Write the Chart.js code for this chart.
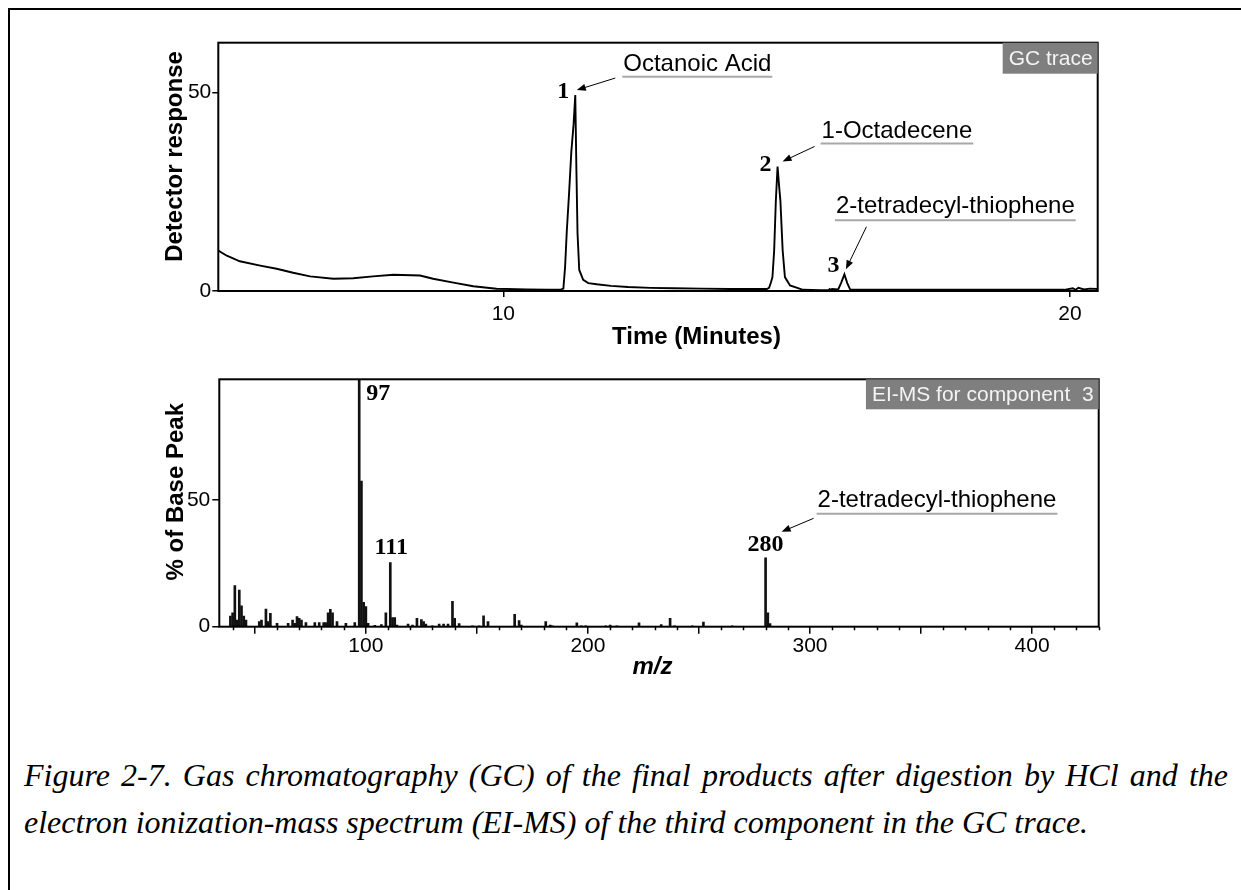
<!DOCTYPE html>
<html>
<head>
<meta charset="utf-8">
<script src="https://cdn.jsdelivr.net/npm/chart.js@4/dist/chart.umd.min.js"></script>
<style>
    body { margin: 0; background: #fff; width: 1241px; height: 890px; overflow: hidden; position: relative; }
    #frame { position: absolute; left: 8px; top: 8px; width: 1300px; height: 1000px; border-top: 2px solid #000; border-left: 2px solid #000; }
    canvas { position: absolute; left: 0; }
    #gc { top: 0; }
    #ms { top: 360px; }
    .caption { position: absolute; left: 24px; font: italic 32px "Liberation Serif", "Times New Roman", serif; line-height: 47px; color: #000; white-space: nowrap; }
    #cap1 { top: 752px; width: 1204px; text-align: justify; text-align-last: justify; }
    #cap2 { top: 799px; }
</style>
</head>
<body>
<div id="frame"></div>
<canvas id="gc" width="1241" height="360"></canvas>
<canvas id="ms" width="1241" height="330"></canvas>
<div class="caption" id="cap1">Figure 2-7. Gas chromatography (GC) of the final products after digestion by HCl and the</div>
<div class="caption" id="cap2">electron ionization-mass spectrum (EI-MS) of the third component in the GC trace.</div>
<script>
    // GC trace (time in minutes, detector response)
    const gcTime = [
        4.97, 5.12, 5.35, 5.71, 6.00, 6.29, 6.59, 7.00, 7.35, 7.70, 8.06, 8.53, 8.76, 9.12, 9.47, 9.88,
        10.41, 10.79, 11.00, 11.06, 11.09, 11.12, 11.16, 11.20, 11.24, 11.27, 11.29, 11.31, 11.34, 11.41,
        11.50, 11.65, 11.90, 12.20, 12.60, 13.00, 13.50, 14.00, 14.40, 14.65, 14.69, 14.72, 14.75, 14.78,
        14.81, 14.84, 14.87, 14.89, 14.93, 14.97, 15.06, 15.29, 15.60, 15.74, 15.76, 15.78, 15.80, 15.91,
        15.96, 16.02, 16.07, 16.12, 16.50, 17.00, 18.00, 19.00, 19.90, 20.05, 20.10, 20.15, 20.25, 20.35, 20.49
    ];
    const gcResponse = [
        10.2, 8.9, 7.5, 6.4, 5.6, 4.6, 3.7, 3.1, 3.2, 3.7, 4.1, 3.9, 3.1, 2.1, 1.2, 0.55,
        0.4, 0.3, 0.3, 0.6, 6, 15, 24.5, 35, 42, 49.4, 30.5, 14.5, 5.3, 2.8,
        2.0, 1.7, 1.3, 1.0, 0.8, 0.7, 0.6, 0.5, 0.5, 0.5, 0.8, 2.0, 3.5, 10.2,
        22.8, 31.4, 26, 22.8, 10.2, 3.5, 1.4, 0.3, 0.2, 0.2, 0.5, 0.2, 0.5, 0.4,
        2.0, 4.2, 2.0, 0.4, 0.3, 0.3, 0.3, 0.3, 0.3, 0.7, 0.3, 0.8, 0.4, 0.6, 0.5
    ];
    const gcTimeTicks = [10, 20];
    const gcResponseTicks = [0, 50];

    const gcPeakNumbers = ['1', '2', '3'];
    const gcPeakNames = ['Octanoic Acid', '1-Octadecene', '2-tetradecyl-thiophene'];
    const gcPeakTimes = [11.27, 14.84, 16.02];
    const gcPeakHeights = [49.4, 31.4, 4.2];

    // EI-MS of component 3 (m/z, % of base peak)
    const msMz = [
        39, 40, 41, 42, 43, 44, 45, 46, 52, 53, 55, 56, 57, 60, 65, 67, 68, 69, 70, 71, 73,
        77, 79, 81, 82, 83, 84, 85, 87, 91, 95, 97, 98, 99, 100, 101, 104, 107, 109, 111, 112, 113, 114,
        119, 121, 123, 125, 126, 127, 130, 133, 135, 137, 139, 140, 142, 148, 151, 153, 155, 167, 169, 170,
        181, 183, 184, 195, 197, 199, 208, 210, 213, 223, 233, 237, 239, 247, 252, 265, 280, 281, 282
    ];
    const msAbundance = [
        4.2, 5.5, 16.2, 2.6, 14.5, 8.2, 4.2, 2.6, 2.0, 2.6, 7.0, 2.0, 5.3, 1.3, 1.3, 2.6, 1.3, 4.0, 3.3, 2.6, 1.6,
        1.6, 1.6, 1.6, 1.6, 5.5, 6.9, 5.5, 2.0, 1.3, 1.6, 100, 57.5, 9.6, 7.9, 1.3, 0.5, 0.8, 5.5, 25.3, 3.6, 3.6, 0.6,
        1.0, 0.6, 3.3, 2.8, 2.0, 1.0, 0.3, 1.0, 1.0, 1.0, 10.0, 3.3, 1.2, 0.3, 0.3, 4.3, 2.0, 4.9, 2.4, 0.6,
        2.0, 0.6, 0.3, 1.5, 0.3, 0.3, 0.3, 0.6, 0.3, 1.5, 0.8, 3.3, 0.3, 0.3, 1.8, 0.3, 27.2, 5.5, 1.2
    ];
    const msMajorTicks = [50, 100, 150, 200, 250, 300, 350, 400];
    const msLabelTicks = [100, 200, 300, 400];
    const msAbundanceTicks = [0, 50];

    const msPeakNumbers = ['97', '111', '280'];
    const msPeakMz = [97, 111, 280];
    const msPeakNames = ['', '', '2-tetradecyl-thiophene'];

    Chart.defaults.font.family = '"Liberation Sans", Arial, sans-serif';
    Chart.defaults.color = '#000';

    const sans = '"Liberation Sans", Arial, sans-serif';
    const serif = '"Liberation Serif", "Times New Roman", serif';

    // layout of the call-outs, offsets in px from the peak top
    const gcNoteLayout = [
        { num: [-12, -3], tip: [1.5, -5], tail: [40, -17], name: [48, -31], line: -18.3 },
        { num: [-12, -1.5], tip: [5, -5], tail: [37, -20], name: [44, -35], line: -23 },
        { num: [-11, -9], tip: [1.5, -5], tail: [22, -47.6], name: [-8.5, -67.6], line: -54 }
    ];
    const msNoteLayout = [
        { num: [19, 14] },
        { num: [1, -15] },
        { num: [0, -13], tip: [16, -26], tail: [48, -39.5], name: [52, -57], line: -44 }
    ];

    function arrow(ctx, x0, y0, x1, y1) {
        const ang = Math.atan2(y1 - y0, x1 - x0);
        ctx.strokeStyle = '#000';
        ctx.lineWidth = 1;
        ctx.beginPath();
        ctx.moveTo(x0, y0);
        ctx.lineTo(x1 - 6 * Math.cos(ang), y1 - 6 * Math.sin(ang));
        ctx.stroke();
        ctx.fillStyle = '#000';
        ctx.beginPath();
        ctx.moveTo(x1, y1);
        ctx.lineTo(x1 - 9 * Math.cos(ang) + 3.5 * Math.sin(ang), y1 - 9 * Math.sin(ang) - 3.5 * Math.cos(ang));
        ctx.lineTo(x1 - 9 * Math.cos(ang) - 3.5 * Math.sin(ang), y1 - 9 * Math.sin(ang) + 3.5 * Math.cos(ang));
        ctx.closePath();
        ctx.fill();
    }

    const decorations = {
        id: 'decorations',
        afterDraw(chart, args, opts) {
            const ctx = chart.ctx;
            const a = chart.chartArea;
            const xs = chart.scales.x;
            const ys = chart.scales.y;
            ctx.save();

            // plot frame
            ctx.strokeStyle = '#000';
            ctx.lineWidth = 2;
            ctx.strokeRect(a.left, a.top, a.right - a.left, a.bottom - a.top);

            // minor ticks every 10 units
            if (opts.minorStep) {
                ctx.lineWidth = 1.5;
                ctx.beginPath();
                for (let v = Math.ceil(xs.min / opts.minorStep) * opts.minorStep; v <= xs.max; v += opts.minorStep) {
                    if (v % 50 === 0) continue;
                    const px = Math.round(xs.getPixelForValue(v)) + 0.5;
                    ctx.moveTo(px, a.bottom);
                    ctx.lineTo(px, a.bottom + 3.5);
                }
                ctx.stroke();
            }

            // grey tag in the corner
            ctx.font = '21px ' + sans;
            const tw = ctx.measureText(opts.tag).width;
            ctx.fillStyle = '#7f7f7f';
            ctx.fillRect(a.right - tw - 11, a.top, tw + 11, opts.tagHeight);
            ctx.fillStyle = '#f4f4f4';
            ctx.textAlign = 'right';
            ctx.textBaseline = 'middle';
            ctx.fillText(opts.tag, a.right - 5, a.top + opts.tagHeight / 2 + 1);

            // peak call-outs
            opts.notes.forEach(n => {
                const px = xs.getPixelForValue(n.x);
                const py = Math.max(ys.getPixelForValue(n.y), a.top);
                const L = n.layout;
                ctx.font = 'bold 24px ' + serif;
                ctx.fillStyle = '#000';
                ctx.textAlign = 'center';
                ctx.textBaseline = 'middle';
                ctx.fillText(n.num, px + L.num[0], py + L.num[1]);
                if (n.name) {
                    ctx.font = '24px ' + sans;
                    ctx.textAlign = 'left';
                    const nx = px + L.name[0];
                    ctx.fillText(n.name, nx, py + L.name[1]);
                    const w = ctx.measureText(n.name).width;
                    ctx.strokeStyle = '#a8a8a8';
                    ctx.lineWidth = 2;
                    ctx.beginPath();
                    ctx.moveTo(nx - 1, py + L.line);
                    ctx.lineTo(nx + w + 1, py + L.line);
                    ctx.stroke();
                    arrow(ctx, px + L.tail[0], py + L.tail[1], px + L.tip[0], py + L.tip[1]);
                }
            });

            // axis titles
            ctx.fillStyle = '#000';
            ctx.textAlign = 'center';
            ctx.textBaseline = 'middle';
            opts.titles.forEach(t => {
                ctx.save();
                ctx.font = t.font;
                ctx.translate(t.x, t.y);
                if (t.rot) ctx.rotate(-Math.PI / 2);
                ctx.fillText(t.text, 0, 0);
                ctx.restore();
            });
            ctx.restore();
        }
    };

    const tickFont = { size: 21, family: sans };

    const gcConfig = {
        type: 'line',
        data: {
            datasets: [{
                label: 'GC trace',
                data: gcTime.map((t, i) => ({ x: t, y: gcResponse[i] })),
                borderColor: '#000',
                borderWidth: 1.9,
                pointRadius: 0,
                tension: 0,
                fill: false
            }]
        },
        options: {
            responsive: false,
            animation: false,
            events: [],
            layout: { padding: { left: 150, right: 143.3, top: 42.7, bottom: 0 } },
            plugins: {
                legend: { display: false },
                tooltip: { enabled: false },
                decorations: {
                    tag: 'GC trace',
                    tagHeight: 31,
                    notes: gcPeakNumbers.map((num, i) => ({
                        x: gcPeakTimes[i], y: gcPeakHeights[i], num: num, name: gcPeakNames[i], layout: gcNoteLayout[i]
                    })),
                    titles: [
                        { text: 'Detector response', x: 175, y: 156.5, rot: true, font: 'bold 24px ' + sans },
                        { text: 'Time (Minutes)', x: 696.5, y: 337, font: 'bold 24px ' + sans }
                    ]
                }
            },
            scales: {
                x: {
                    type: 'linear',
                    min: 4.97,
                    max: 20.49,
                    afterBuildTicks: s => { s.ticks = gcTimeTicks.map(v => ({ value: v })); },
                    afterFit: s => { s.height = 69; },
                    grid: { drawOnChartArea: false, drawTicks: true, tickLength: 6, color: '#000', lineWidth: 1.5 },
                    border: { display: false },
                    ticks: { font: tickFont, color: '#000', padding: 5, maxRotation: 0, autoSkip: false }
                },
                y: {
                    min: 0,
                    max: 62.6,
                    afterBuildTicks: s => { s.ticks = gcResponseTicks.map(v => ({ value: v })); },
                    afterFit: s => { s.width = 68.3; },
                    grid: { drawOnChartArea: false, drawTicks: true, tickLength: 6, color: '#000', lineWidth: 1.5 },
                    border: { display: false },
                    ticks: { font: tickFont, color: '#000', padding: 1 }
                }
            }
        },
        plugins: [decorations]
    };

    const msConfig = {
        type: 'bar',
        data: {
            datasets: [{
                label: 'EI-MS for component 3',
                data: msMz.map((m, i) => ({ x: m, y: msAbundance[i] })),
                backgroundColor: '#111',
                borderWidth: 0,
                barThickness: 2
            }]
        },
        options: {
            responsive: false,
            animation: false,
            events: [],
            layout: { padding: { left: 150, right: 142.3, top: 19.3, bottom: 0 } },
            plugins: {
                legend: { display: false },
                tooltip: { enabled: false },
                decorations: {
                    tag: 'EI-MS for component  3',
                    tagHeight: 30,
                    minorStep: 10,
                    notes: msPeakNumbers.map((num, i) => ({
                        x: msPeakMz[i], y: msAbundance[msMz.indexOf(msPeakMz[i])], num: num, name: msPeakNames[i], layout: msNoteLayout[i]
                    })),
                    titles: [
                        { text: '% of Base Peak', x: 176, y: 131.7, rot: true, font: 'bold 24px ' + sans },
                        { text: 'm/z', x: 652.5, y: 307, font: 'italic bold 24px ' + sans }
                    ]
                }
            },
            scales: {
                x: {
                    type: 'linear',
                    min: 34,
                    max: 430,
                    offset: false,
                    afterBuildTicks: s => { s.ticks = msMajorTicks.map(v => ({ value: v })); },
                    afterFit: s => { s.height = 63.3; },
                    grid: { offset: false, drawOnChartArea: false, drawTicks: true, tickLength: 7, color: '#000', lineWidth: 1.5 },
                    border: { display: false },
                    ticks: {
                        font: tickFont, color: '#000', padding: 0, maxRotation: 0, autoSkip: false,
                        callback: v => msLabelTicks.includes(v) ? String(v) : ''
                    }
                },
                y: {
                    min: 0,
                    max: 97.7,
                    afterBuildTicks: s => { s.ticks = msAbundanceTicks.map(v => ({ value: v })); },
                    afterFit: s => { s.width = 69.3; },
                    grid: { drawOnChartArea: false, drawTicks: true, tickLength: 7, color: '#000', lineWidth: 1.5 },
                    border: { display: false },
                    ticks: { font: tickFont, color: '#000', padding: 2 }
                }
            }
        },
        plugins: [decorations]
    };

    const gcChart = new Chart(document.getElementById('gc'), gcConfig);
    const msChart = new Chart(document.getElementById('ms'), msConfig);
</script>
</body>
</html>
